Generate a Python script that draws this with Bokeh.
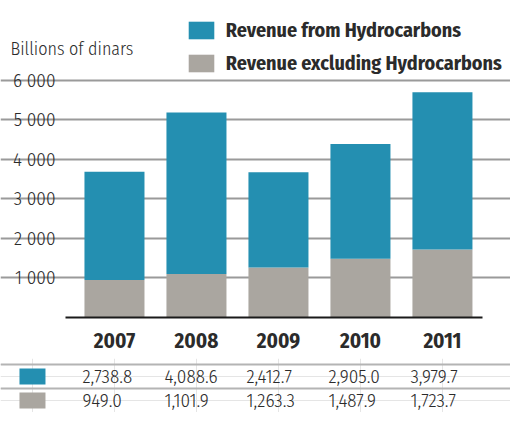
import subprocess
from bokeh.plotting import figure
from bokeh.layouts import column
from bokeh.models import (ColumnDataSource, Range1d, FixedTicker, Legend, LegendItem,
                          Label, Grid)
from bokeh.core.properties import value
from bokeh.embed import file_html
from bokeh.resources import INLINE

# ---------------- data ----------------
years = [2007, 2008, 2009, 2010, 2011]
hydro = [2738.8, 4088.6, 2412.7, 2905.0, 3979.7]
excl = [949.0, 1101.9, 1263.3, 1487.9, 1723.7]
ytick_vals = [1000, 2000, 3000, 4000, 5000, 6000]
ytick_labels = ["1 000", "2 000", "3 000", "4 000", "5 000", "6 000"]
series_names = ["Revenue from Hydrocarbons", "Revenue excluding Hydrocarbons"]
unit_label = "Billions of dinars"

BLUE = "#248fb1"
GRAY = "#aaa6a0"
TXT = "#2b2b2b"


def font_families():
    try:
        out = subprocess.run(["fc-list", ":", "family"], capture_output=True, text=True).stdout
    except Exception:
        out = ""
    fams = set()
    for line in out.splitlines():
        for f in line.split(","):
            fams.add(f.strip())
    return fams


FAMS = font_families()


def pick_font(cands):
    for c in cands:
        if c in FAMS:
            return c
    return cands[-1]


FONT = pick_font(["Fira Sans Condensed", "Roboto Condensed", "Asap Condensed",
                  "Archivo Narrow", "Roboto"])
LIGHT = pick_font(["Fira Sans Condensed Light", "Roboto Condensed Light", FONT])

# x mapping shared by both panels (frames span the full canvas width)
X0, X1 = 2005.610, 2011.830
XL, XR = 2006.403, 2011.488          # extent of the plotting area (grid / baseline)

# ---------------- main chart ----------------
src = ColumnDataSource(dict(year=years, hydro=hydro, excl=excl))

p = figure(width=510, height=358, output_backend="svg", toolbar_location=None,
           x_range=Range1d(X0, X1), y_range=Range1d(0, 8025),
           min_border_left=0, min_border_right=0, min_border_top=0, min_border_bottom=41)
p.outline_line_color = None
p.background_fill_color = "white"

rs = p.vbar_stack(["excl", "hydro"], x="year", width=0.732, color=[GRAY, BLUE],
                  line_color=None, source=src)

# y axis, drawn at the left edge of the plotting area
p.yaxis.fixed_location = XL
p.yaxis.ticker = FixedTicker(ticks=ytick_vals)
p.yaxis.major_label_overrides = {v: l for v, l in zip(ytick_vals, ytick_labels)}
p.yaxis.axis_line_color = None
p.yaxis.major_tick_line_color = None
p.yaxis.minor_tick_line_color = None
p.yaxis.major_tick_in = 0
p.yaxis.major_tick_out = 0
p.yaxis.major_label_standoff = 10
p.yaxis.major_label_text_font = LIGHT
p.yaxis.major_label_text_font_size = "19px"
p.yaxis.major_label_text_color = TXT

p.ygrid.grid_line_color = "#9a9a9a"
p.ygrid.grid_line_width = 2
p.ygrid.bounds = (XL, XR)
p.xgrid.grid_line_color = None

# x axis
p.xaxis.ticker = FixedTicker(ticks=years)
p.xaxis.bounds = (XL, XR)
p.xaxis.axis_line_color = "#1a1a1a"
p.xaxis.axis_line_width = 2
p.xaxis.major_tick_line_color = None
p.xaxis.minor_tick_line_color = None
p.xaxis.major_tick_in = 0
p.xaxis.major_tick_out = 0
p.xaxis.major_label_standoff = 15
p.xaxis.major_label_text_font = FONT
p.xaxis.major_label_text_font_style = "bold"
p.xaxis.major_label_text_font_size = "21px"
p.xaxis.major_label_text_color = TXT

legend = Legend(items=[LegendItem(label=series_names[0], renderers=[rs[1]]),
                       LegendItem(label=series_names[1], renderers=[rs[0]])],
                location=(184.75, 242), orientation="vertical",
                glyph_width=32, glyph_height=22, label_standoff=9, spacing=9,
                padding=0, margin=0, border_line_color=None, background_fill_alpha=0,
                label_text_font=FONT, label_text_font_style="bold",
                label_text_font_size="20px", label_text_color=TXT)
p.add_layout(legend)

p.add_layout(Label(x=10, y=269, x_units="screen", y_units="screen", text=unit_label,
                   text_font=LIGHT, text_font_size="18px", text_color=TXT,
                   text_baseline="alphabetic", text_align="left"))

# ---------------- data table ----------------
p2 = figure(width=510, height=54, output_backend="svg", toolbar_location=None,
            x_range=Range1d(X0, X1), y_range=Range1d(1.5, -0.75),
            x_axis_location=None, y_axis_location=None,
            min_border_left=0, min_border_right=0, min_border_top=0, min_border_bottom=0)
p2.outline_line_color = None
p2.add_layout(Grid(dimension=1, ticker=FixedTicker(ticks=[-0.5, 0.5]),
                   bounds=(2005.793, XR), grid_line_color="#b4b4b4", grid_line_width=2))

for i, (vals, col) in enumerate([(hydro, BLUE), (excl, GRAY)]):
    tsrc = ColumnDataSource(dict(x=years, y=[i] * len(years),
                                 t=[f"{v:,.1f}" for v in vals]))
    p2.text(x="x", y="y", text="t", source=tsrc, x_offset=-32,
            text_font=value(LIGHT), text_font_size="19px", text_color=TXT,
            text_align="left", text_baseline="middle")
    p2.rect(x=[years[0] - 1], y=[i], width=26, height=16, width_units="screen",
            height_units="screen", fill_color=col, line_color=None)

layout = column(p, p2, spacing=0)
open("out.html", "w").write(file_html(layout, INLINE))
